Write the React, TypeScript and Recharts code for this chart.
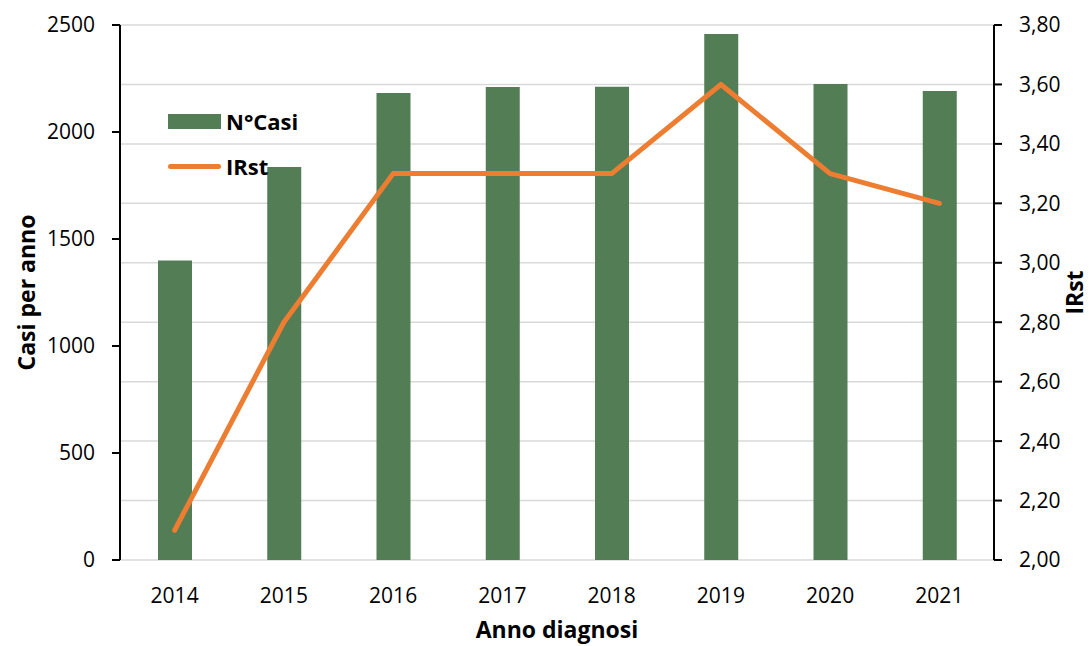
import React from 'react';
import { ComposedChart, Bar, Line, XAxis, YAxis, CartesianGrid, Legend } from 'recharts';

// valori
const anni = [2014, 2015, 2016, 2017, 2018, 2019, 2020, 2021];
const casi = [1400, 1836, 2182, 2210, 2211, 2458, 2224, 2192];
const irst = [2.1, 2.8, 3.3, 3.3, 3.3, 3.6, 3.3, 3.2];

const casiTicks = [0, 500, 1000, 1500, 2000, 2500];
const irstTicks = [2.0, 2.2, 2.4, 2.6, 2.8, 3.0, 3.2, 3.4, 3.6, 3.8];
const confiniAnni = [2013.5, 2014.5, 2015.5, 2016.5, 2017.5, 2018.5, 2019.5, 2020.5, 2021.5];

const VERDE = '#527D55';
const ARANCIO = '#ED7D31';
const FONT = '"Open Sans", "Noto Sans", sans-serif';

const data = anni.map((anno, i) => ({ anno, casi: casi[i], irst: irst[i] }));

const tickStyle = { fontSize: 21, fill: '#000', fontFamily: FONT };
const titleStyle = { fontSize: 23, fontWeight: 700, fill: '#000', fontFamily: FONT, textAnchor: 'middle' as const };
const axisLine = { stroke: '#000', strokeWidth: 2 };
const tickLine = { stroke: '#000', strokeWidth: 2 };

const LegendBox = () => (
  <div style={{ fontFamily: FONT, fontWeight: 700, fontSize: 22, color: '#000', textAlign: 'left' }}>
    <div style={{ display: 'flex', alignItems: 'center', height: 28 }}>
      <span style={{ display: 'inline-block', width: 53, height: 15, background: VERDE, marginRight: 5 }} />
      N°Casi
    </div>
    <div style={{ display: 'flex', alignItems: 'center', height: 28, marginTop: 17 }}>
      <span style={{ display: 'inline-block', width: 53, height: 5, borderRadius: 3, background: ARANCIO, marginRight: 5 }} />
      IRst
    </div>
  </div>
);

export default function App() {
  return (
    <div style={{ position: 'absolute', left: 0, top: 0, width: 1089, height: 646, background: '#fff', overflow: 'hidden' }}>
      <ComposedChart
        width={1089}
        height={646}
        data={data}
        margin={{ top: 25, right: 0, left: 0, bottom: 0 }}
      >
        <CartesianGrid yAxisId="right" xAxisId="x" vertical={false} stroke="#d9d9d9" strokeWidth={1.5} />

        <XAxis
          xAxisId="confini"
          type="number"
          dataKey="anno"
          domain={[2013.5, 2021.5]}
          ticks={confiniAnni}
          tick={false}
          tickSize={8}
          height={0}
          axisLine={axisLine}
          tickLine={tickLine}
          allowDataOverflow
        />
        <XAxis
          xAxisId="x"
          type="number"
          dataKey="anno"
          domain={[2013.5, 2021.5]}
          ticks={anni}
          tick={tickStyle}
          tickLine={false}
          axisLine={false}
          tickSize={0}
          tickMargin={28}
          height={86}
          allowDataOverflow
          label={{
            value: 'Anno diagnosi',
            position: 'center',
            dy: 27,
            style: titleStyle,
          }}
        />

        <YAxis
          yAxisId="left"
          orientation="left"
          width={120}
          domain={[0, 2500]}
          ticks={casiTicks}
          tick={tickStyle}
          tickSize={8}
          tickMargin={17}
          axisLine={axisLine}
          tickLine={tickLine}
          label={{
            value: 'Casi per anno',
            angle: -90,
            position: 'center',
            dx: -33,
            style: titleStyle,
          }}
        />
        <YAxis
          yAxisId="right"
          orientation="right"
          width={95}
          domain={[2, 3.8]}
          ticks={irstTicks}
          tickFormatter={(v: number) => v.toFixed(2).replace('.', ',')}
          tick={tickStyle}
          tickSize={8}
          tickMargin={17}
          axisLine={axisLine}
          tickLine={tickLine}
          allowDataOverflow
          label={{
            value: 'IRst',
            angle: -90,
            position: 'center',
            dx: 33,
            style: titleStyle,
          }}
        />

        <Legend
          layout="horizontal"
          verticalAlign="middle"
          align="center"
          content={<LegendBox />}
          wrapperStyle={{ left: 168, top: 107, width: 170 }}
        />

        <Bar
          xAxisId="x"
          yAxisId="left"
          dataKey="casi"
          name="N°Casi"
          fill={VERDE}
          barSize={34}
          isAnimationActive={false}
        />
        <Line
          xAxisId="x"
          yAxisId="right"
          dataKey="irst"
          name="IRst"
          type="linear"
          stroke={ARANCIO}
          strokeWidth={5}
          strokeLinecap="round"
          strokeLinejoin="round"
          dot={false}
          activeDot={false}
          isAnimationActive={false}
        />
      </ComposedChart>
    </div>
  );
}
